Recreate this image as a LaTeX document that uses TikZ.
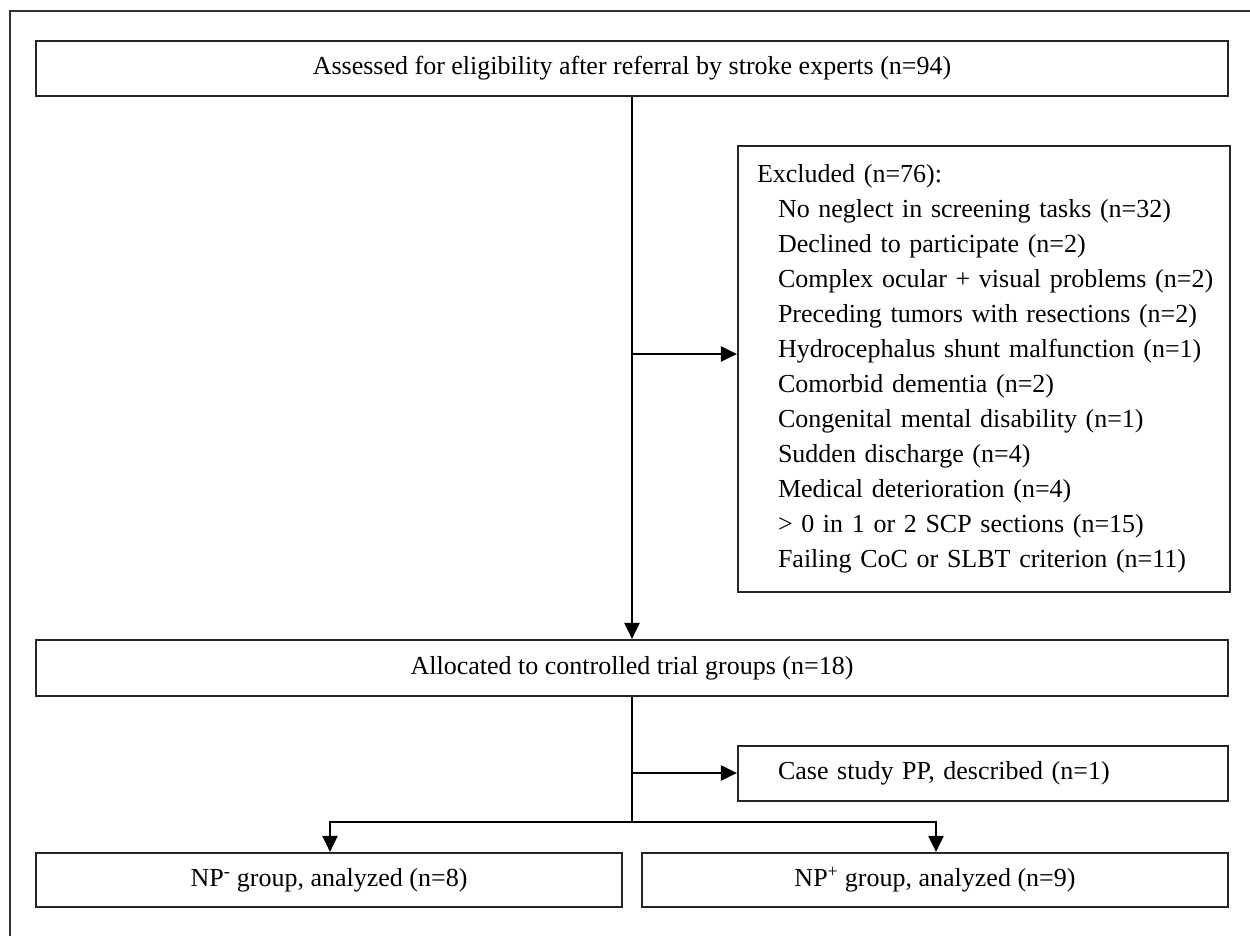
\documentclass[tikz,border=0pt]{standalone}
\usepackage{fontspec}
\setmainfont{Liberation Serif}
\usetikzlibrary{arrows.meta,positioning}
\newcommand{\exline}[1]{\mbox{\hspace*{21pt}#1}}
\begin{document}
\begin{tikzpicture}[x=1pt,y=-1pt,
  every node/.style={font=\fontsize{26}{35}\selectfont},
  box/.style={draw=black!85,line width=2.2pt,rectangle,inner sep=0pt},
  arr/.style={line width=2.2pt,-{Triangle[length=16pt,width=15pt]}},
  conn/.style={line width=2.2pt}]
\useasboundingbox (0,0) rectangle (1250,935);
\fill[white] (0,0) rectangle (1250,935);
\draw[line width=2.2pt,black!80] (10,940) -- (10,11) -- (1255,11);

\node[box,minimum width=1192pt,minimum height=55pt] (b1) at (632,68.5)
  {Assessed for eligibility after referral by stroke experts (n=94)};

\node[box,minimum width=492pt,minimum height=446pt,text width=454pt,inner xsep=19pt,align=left] (excl) at (984,369)
  {\mbox{Excluded (n=76):}\\
   \exline{No neglect in screening tasks (n=32)}\\
   \exline{Declined to participate (n=2)}\\
   \exline{Complex ocular + visual problems (n=2)}\\
   \exline{Preceding tumors with resections (n=2)}\\
   \exline{Hydrocephalus shunt malfunction (n=1)}\\
   \exline{Comorbid dementia (n=2)}\\
   \exline{Congenital mental disability (n=1)}\\
   \exline{Sudden discharge (n=4)}\\
   \exline{Medical deterioration (n=4)}\\
   \exline{{>} 0 in 1 or 2 SCP sections (n=15)}\\
   \exline{Failing CoC or SLBT criterion (n=11)}};

\node[box,minimum width=1192pt,minimum height=56pt] (alloc) at (632,668)
  {Allocated to controlled trial groups (n=18)};

\node[box,minimum width=490pt,minimum height=55pt,text width=410pt,inner xsep=40pt,align=left] (case) at (983,773.5)
  {Case study PP, described (n=1)};

\node[box,minimum width=586pt,minimum height=54pt] (npm) at (329,880)
  {NP\textsuperscript{-} group, analyzed (n=8)};
\node[box,minimum width=586pt,minimum height=54pt] (npp) at (935,880)
  {NP\textsuperscript{+} group, analyzed (n=9)};

\coordinate (e) at (632,354);
\coordinate (c) at (632,773);
\coordinate (split) at (632,822);

\draw[arr] (b1) -- (alloc);
\draw[arr] (e) -- (e -| excl.west);
\draw[conn] (alloc.south) -- (split);
\draw[arr] (c) -- (c -| case.west);
\draw[arr] (split) -| ([xshift=1pt]npm.north);
\draw[arr] (split) -| ([xshift=1pt]npp.north);
\end{tikzpicture}
\end{document}
